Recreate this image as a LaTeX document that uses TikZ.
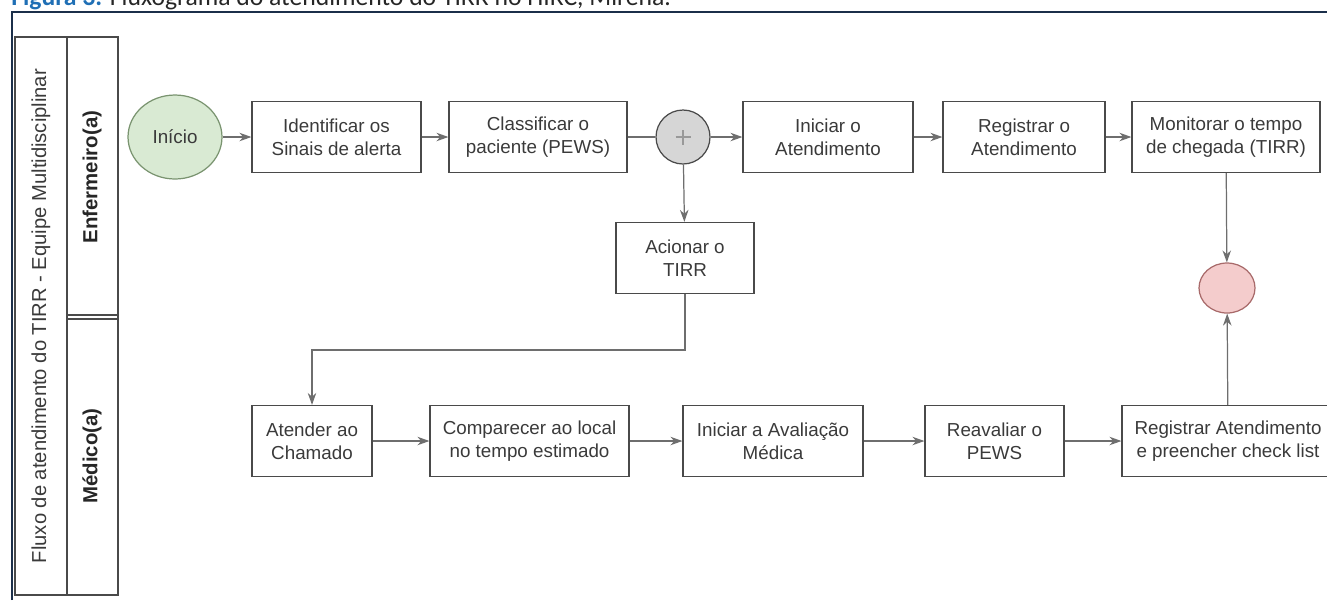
\documentclass[tikz,border=0pt]{standalone}
\usepackage{fontspec}
\setmainfont{Liberation Sans}
\newfontfamily\capfont{Carlito}
\usetikzlibrary{arrows.meta,shapes.geometric,positioning}

\definecolor{framenavy}{HTML}{1B2F4A}
\definecolor{capblue}{HTML}{1F6FB5}
\definecolor{boxline}{HTML}{4A4A4A}
\definecolor{txt}{HTML}{3A3A3A}
\definecolor{edge}{HTML}{6E6E6E}
\definecolor{startfill}{HTML}{D9EAD3}
\definecolor{startline}{HTML}{7A9470}
\definecolor{endfill}{HTML}{F4CCCC}
\definecolor{endline}{HTML}{A86A6A}
\definecolor{gwfill}{HTML}{D6D6D6}

\begin{document}
\begin{tikzpicture}[
    x=0.02cm, y=-0.02cm,
    task/.style={rectangle,draw=boxline,line width=0.7pt,text=txt,align=center,
      font=\fontsize{10.7}{13}\selectfont,minimum height=1.42cm,inner sep=2pt},
    flow/.style={->,>={Stealth[length=2.4mm,width=1.7mm]},draw=edge,line width=0.7pt},
    lane/.style={draw=boxline,line width=0.7pt}
    ]

    \clip (0,0) rectangle (1327,600);

    % caption, cut off at the top
    \node[anchor=base west,inner sep=0pt,font=\capfont\fontsize{14.6}{16}\selectfont]
      (cap) at (11,5) {\textcolor{capblue}{\bfseries Figura 3.} \textcolor{black!85}{Fluxograma do atendimento do TIRR no HIRC, Mirená.}};
    \draw[framenavy,line width=1.1pt] (12,600) -- (12,12) -- (1330,12);

    % pool and lanes
    \draw[lane] (15,37) rectangle (118,595);
    \draw[lane] (67,37) -- (67,595);
    \draw[lane] (67,315) -- (118,315);
    \draw[lane] (67,319) -- (118,319);
    \node[rotate=90,text=txt,font=\fontsize{11.5}{13}\selectfont] (pool) at (41,316)
      {Fluxo de atendimento do TIRR - Equipe Multidisciplinar};
    \node[rotate=90,text=black!85,font=\bfseries\fontsize{11.6}{13}\selectfont] (enf) at (92,177) {Enfermeiro(a)};
    \node[rotate=90,text=black!85,font=\bfseries\fontsize{11.6}{13}\selectfont] (med) at (92,456) {Médico(a)};

    % enfermeiro(a)
    \node (inicio) [ellipse,draw=startline,fill=startfill,line width=0.7pt,text=txt,
      font=\fontsize{10.7}{13}\selectfont,minimum width=1.88cm,minimum height=1.68cm] at (175,137) {Início};
    \node (ident) [task,minimum width=3.38cm] at (336.5,137) {Identificar os\\Sinais de alerta};
    \node (classif) [task,minimum width=3.56cm] at (538,137) {Classificar o\\paciente (PEWS)};
    \node (gw) [circle,draw=boxline,fill=gwfill,line width=0.7pt,minimum size=1.08cm,
      path picture={\draw[black!40,line width=1.4pt]
        (path picture bounding box.center) +(-0.15cm,0) -- +(0.15cm,0)
        (path picture bounding box.center) +(0,-0.15cm) -- +(0,0.15cm);}] at (683,137) {};
    \node (iniciar) [task,minimum width=3.4cm] at (828,137) {Iniciar o\\Atendimento};
    \node (registrar) [task,minimum width=3.24cm] at (1024,137) {Registrar o\\Atendimento};
    \node (monitorar) [task,minimum width=3.76cm] at (1226,137) {Monitorar o tempo\\de chegada (TIRR)};
    \node (acionar) [task,minimum width=2.76cm] at (685,258) {Acionar o\\TIRR};
    \node (fim) [ellipse,draw=endline,fill=endfill,line width=0.7pt,minimum width=1.12cm,
      minimum height=1.0cm] at (1227,288) {};

    % medico(a)
    \node (atender) [task,minimum width=2.4cm] at (312,441) {Atender ao\\Chamado};
    \node (comparecer) [task,minimum width=3.98cm] at (529.5,441) {Comparecer ao local\\no tempo estimado};
    \node (avaliacao) [task,minimum width=3.6cm] at (773,441) {Iniciar a Avaliação\\Médica};
    \node (reavaliar) [task,minimum width=2.78cm] at (994.5,441) {Reavaliar o\\PEWS};
    \node (checklist) [task,minimum width=4.24cm] at (1228,441) {Registrar Atendimento\\e preencher check list};

    \coordinate (bend) at (685,350);

    \draw[flow] (inicio) -- (ident);
    \draw[flow] (ident) -- (classif);
    \draw[draw=edge,line width=0.7pt] (classif) -- (gw);
    \draw[flow] (gw) -- (iniciar);
    \draw[flow] (gw) -- (acionar);
    \draw[flow] (iniciar) -- (registrar);
    \draw[flow] (registrar) -- (monitorar);
    \draw[flow] (monitorar) -- (fim);
    \draw[flow] (acionar) -- (bend) -| (atender);

    \foreach \a/\b in {atender/comparecer,comparecer/avaliacao,avaliacao/reavaliar,reavaliar/checklist}
      \draw[flow] (\a) -- (\b);

    \draw[flow] (checklist) -- (fim);

\end{tikzpicture}
\end{document}
